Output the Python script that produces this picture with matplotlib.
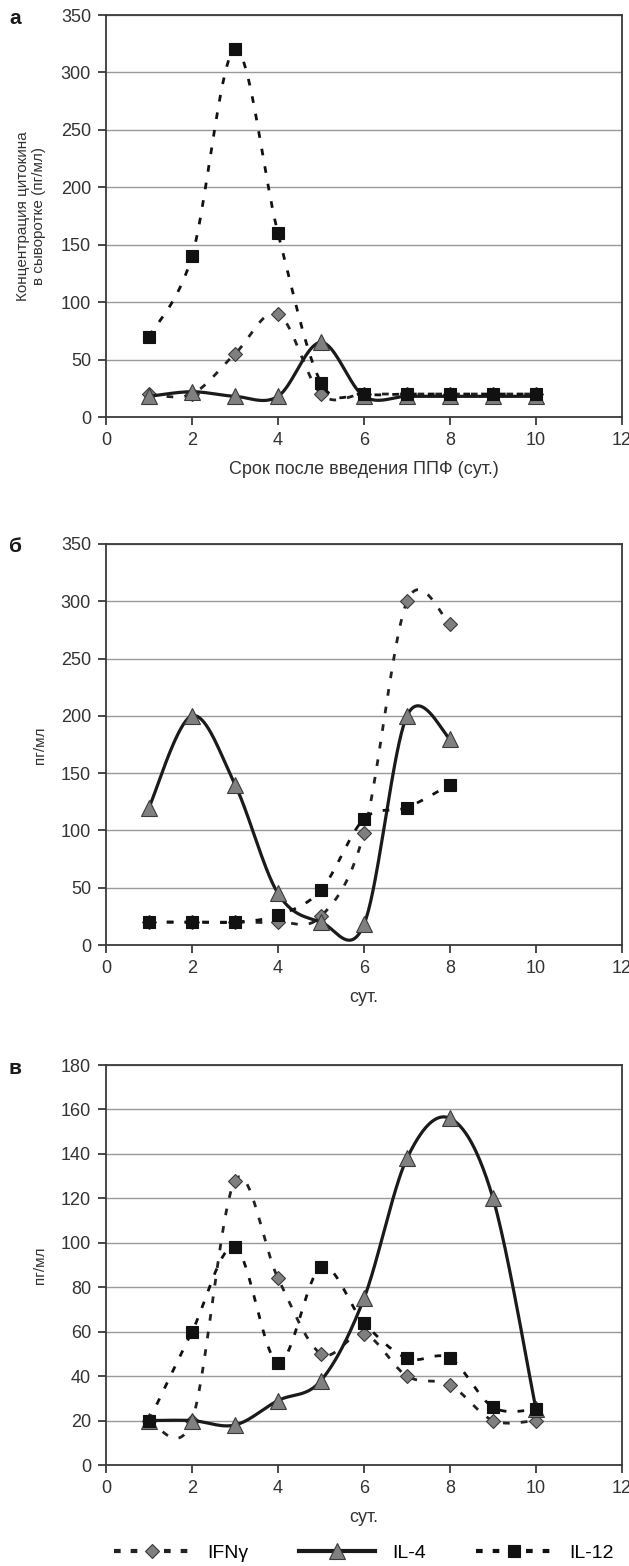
import numpy as np
import matplotlib
matplotlib.use('Agg')
import matplotlib.pyplot as plt
from matplotlib.lines import Line2D

plt.rcParams['font.family'] = ['Liberation Sans', 'DejaVu Sans']

# panel а
days_a = [1, 2, 3, 4, 5, 6, 7, 8, 9, 10]
ifng_a = [20, 20, 55, 90, 20, 20, 20, 20, 20, 20]
il4_a = [18, 22, 18, 18, 65, 18, 18, 18, 18, 18]
il12_a = [70, 140, 320, 160, 30, 20, 20, 20, 20, 20]

# panel б
days_b = [1, 2, 3, 4, 5, 6, 7, 8]
ifng_b = [20, 20, 20, 20, 25, 98, 300, 280]
il4_b = [120, 200, 140, 45, 20, 18, 200, 180]
il12_b = [20, 20, 20, 26, 48, 110, 120, 140]

# panel в
days_c = [1, 2, 3, 4, 5, 6, 7, 8, 9, 10]
ifng_c = [20, 20, 128, 84, 50, 59, 40, 36, 20, 20]
il4_c = [20, 20, 18, 29, 38, 75, 138, 156, 120, 25]
il12_c = [20, 60, 98, 46, 89, 64, 48, 48, 26, 25]

series_names = ['IFNγ', 'IL-4', 'IL-12']

W, H = 629, 1566
DARK = '#333333'


def smooth(x, y, n=40):
    # Excel-like smoothed line (Catmull-Rom as cubic Bezier)
    p = np.column_stack([x, y]).astype(float)
    out = []
    for i in range(len(p) - 1):
        p0 = p[max(i - 1, 0)]
        p1 = p[i]
        p2 = p[i + 1]
        p3 = p[min(i + 2, len(p) - 1)]
        c1 = p1 + (p2 - p0) / 6
        c2 = p2 - (p3 - p1) / 6
        t = np.linspace(0, 1, n)[:, None]
        seg = (1 - t) ** 3 * p1 + 3 * (1 - t) ** 2 * t * c1 + 3 * (1 - t) * t ** 2 * c2 + t ** 3 * p2
        out.append(seg if i == 0 else seg[1:])
    s = np.vstack(out)
    return s[:, 0], s[:, 1]


styles = {
    'IFNγ': dict(ls=(0, (2.4, 4.0)), lw=2.0, color='#222222', marker='D', ms=7.5,
                 mfc='#7f7f7f', mec='#3a3a3a'),
    'IL-4': dict(ls='-', lw=2.3, color='#1a1a1a', marker='^', ms=11,
                 mfc='#808080', mec='#3a3a3a'),
    'IL-12': dict(ls=(0, (2.4, 4.0)), lw=2.0, color='#111111', marker='s', ms=8.5,
                  mfc='#111111', mec='#111111'),
}
legend_ls = {'IFNγ': (0, (1.6, 2.4)), 'IL-4': '-', 'IL-12': (0, (1.6, 2.4))}


def px_box(top, bottom, left=106, right=622):
    return [left / W, 1 - bottom / H, (right - left) / W, (bottom - top) / H]


fig = plt.figure(figsize=(W / 100, H / 100), dpi=100)

panels = [
    ('а', px_box(15, 417), days_a, [ifng_a, il4_a, il12_a], 350, 50,
     'Срок после введения ППФ (сут.)'),
    ('б', px_box(544, 945), days_b, [ifng_b, il4_b, il12_b], 350, 50, 'сут.'),
    ('в', px_box(1065, 1465), days_c, [ifng_c, il4_c, il12_c], 180, 20, 'сут.'),
]

for i, (letter, box, days, vals, ymax, ystep, xlab) in enumerate(panels):
    ax = fig.add_axes(box)
    for k, (name, y) in enumerate(zip(series_names, vals)):
        st = styles[name]
        sx, sy = smooth(days, y)
        ax.plot(sx, sy, ls=st['ls'], lw=st['lw'], color=st['color'], zorder=3 + k,
                clip_on=False)
        ax.plot(days, y, ls='none', marker=st['marker'], ms=st['ms'],
                mfc=st['mfc'], mec=st['mec'], mew=0.8, zorder=3 + k, clip_on=False)
    ax.set_xlim(0, 12)
    ax.set_ylim(0, ymax)
    ax.set_xticks(np.arange(0, 13, 2))
    ax.set_yticks(np.arange(0, ymax + 1, ystep))
    ax.yaxis.grid(True, color='#9a9a9a', lw=1.0)
    ax.set_axisbelow(True)
    for sp in ax.spines.values():
        sp.set_color('#3a3a3a')
        sp.set_linewidth(1.3)
    ax.tick_params(direction='out', length=5.8, width=1.3, color='#3a3a3a',
                   labelsize=13, labelcolor=DARK, pad=5)
    ax.set_xlabel(xlab, fontsize=13, color=DARK, labelpad=9)
    top = [15, 544, 1065][i]
    fig.text(15 / W, 1 - (top + 3) / H, letter, fontsize=15, fontweight='bold',
             ha='center', va='center', color='#1a1a1a')

# y labels
fig.text(31 / W, 1 - 216 / H, 'Концентрация цитокина\nв сыворотке (пг/мл)',
         rotation=90, ha='center', va='center', fontsize=11, color=DARK,
         linespacing=1.2)
fig.text(40 / W, 1 - 745 / H, 'пг/мл', rotation=90, ha='center', va='center',
         fontsize=11, color=DARK)
fig.text(40 / W, 1 - 1265 / H, 'пг/мл', rotation=90, ha='center', va='center',
         fontsize=11, color=DARK)

handles = []
for name in series_names:
    st = styles[name]
    handles.append(Line2D([], [], ls=legend_ls[name], lw=3.0, color=st['color'],
                          marker=st['marker'], ms=st['ms'], mfc=st['mfc'],
                          mec=st['mec'], mew=0.8))
fig.legend(handles, series_names, loc='center', ncol=3, frameon=False,
           bbox_to_anchor=(364 / W, 1 - 1553 / H), fontsize=14,
           handlelength=3.9, handletextpad=0.9, columnspacing=2.6)

fig.savefig('out.png', dpi=100)
